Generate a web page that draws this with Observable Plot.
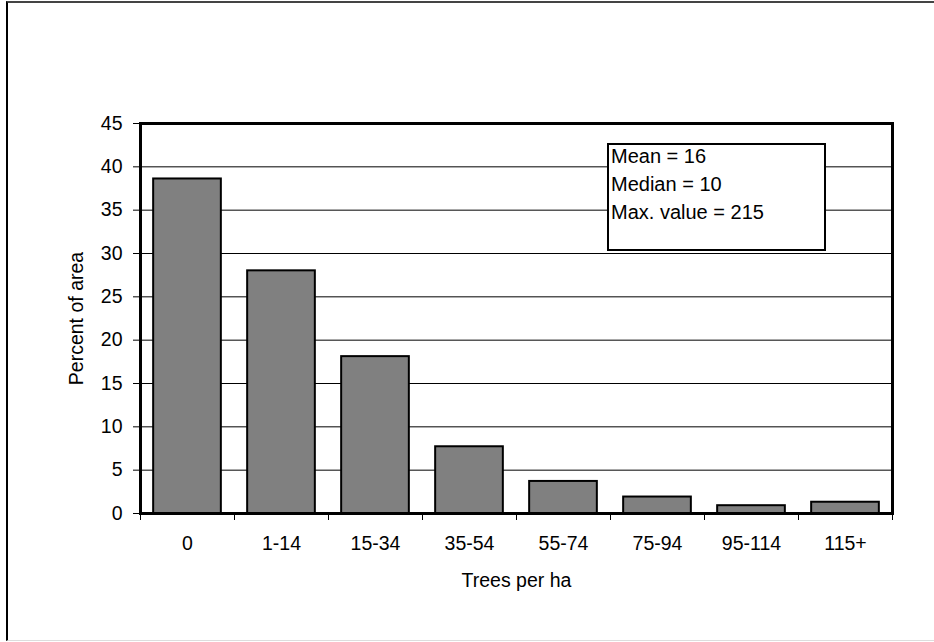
<!DOCTYPE html>
<html>
<head>
<meta charset="utf-8">
<script src="https://cdn.jsdelivr.net/npm/d3@7"></script>
<script src="https://cdn.jsdelivr.net/npm/@observablehq/plot@0.6"></script>
<style>
  html, body { margin: 0; padding: 0; background: #fff; }
  #wrap { position: relative; width: 934px; height: 642px; overflow: hidden; font-family: "Liberation Sans", Arial, sans-serif; }
  #outer { position: absolute; left: 6px; top: 1px; right: 0px; bottom: 1px;
           border-left: 2px solid #000; border-top: 2px solid #444;
           border-bottom: 1px solid #ddd; pointer-events: none; }
  #stats { position: absolute; left: 607px; top: 143px; width: 219px; height: 108px; box-sizing: border-box;
           border: 2px solid #000; background: #fff; padding-left: 2px; font-size: 20px; line-height: 28px; color: #000; }
  #stats div:first-child { margin-top: -3px; }
</style>
</head>
<body>
<div id="wrap">
  <div id="chart"></div>
  <div id="stats"></div>
  <div id="outer"></div>
</div>
<script>
const categories = ["0", "1-14", "15-34", "35-54", "55-74", "75-94", "95-114", "115+"];
const percents = [38.6, 28.0, 18.1, 7.7, 3.7, 1.9, 0.9, 1.3];
const yTicks = [0, 5, 10, 15, 20, 25, 30, 35, 40, 45];
const statsLines = ["Mean = 16", "Median = 10", "Max. value = 215"];
const xTitle = "Trees per ha";
const yTitle = "Percent of area";

const rows = categories.map((c, i) => ({i, category: c, value: percents[i]}));
const FONT = "Liberation Sans, Arial, sans-serif";

const chart = Plot.plot({
  width: 934,
  height: 642,
  marginLeft: 140,
  marginRight: 42,
  marginTop: 123,
  marginBottom: 129,
  style: {fontFamily: FONT, fontSize: "19.5px", color: "#000", background: "transparent"},
  x: {type: "linear", domain: [0, categories.length]},
  y: {domain: [0, 45]},
  marks: [
    Plot.gridY({ticks: yTicks.slice(1, -1), stroke: "black", strokeOpacity: 1, strokeWidth: 1}),
    Plot.rectY(rows, {x1: d => d.i + 0.14, x2: d => d.i + 0.86, y1: 0, y2: "value",
      fill: "#808080", stroke: "black", strokeWidth: 2}),
    Plot.frame({stroke: "black", strokeWidth: 3}),
    Plot.axisY({ticks: yTicks, tickSize: 7, tickPadding: 11, label: null, fontSize: 19.5, strokeWidth: 1}),
    Plot.axisX({ticks: d3.range(categories.length + 1), tickSize: 7, tickFormat: () => "", label: null}),
    Plot.axisX({ticks: categories.map((c, i) => i + 0.5), tickSize: 0, tickPadding: 23,
      tickFormat: d => categories[Math.floor(d)], label: null, fontSize: 19.5}),
    Plot.text([yTitle], {frameAnchor: "left", dx: -64, rotate: -90, textAnchor: "middle", lineAnchor: "middle", fontSize: 19.5, fill: "black"}),
    Plot.text([xTitle], {frameAnchor: "bottom", dy: 67, textAnchor: "middle", lineAnchor: "middle", fontSize: 19.5, fill: "black"})
  ]
});
document.getElementById("chart").appendChild(chart);

const stats = document.getElementById("stats");
statsLines.forEach(t => { const d = document.createElement("div"); d.textContent = t; stats.appendChild(d); });
</script>
</body>
</html>
